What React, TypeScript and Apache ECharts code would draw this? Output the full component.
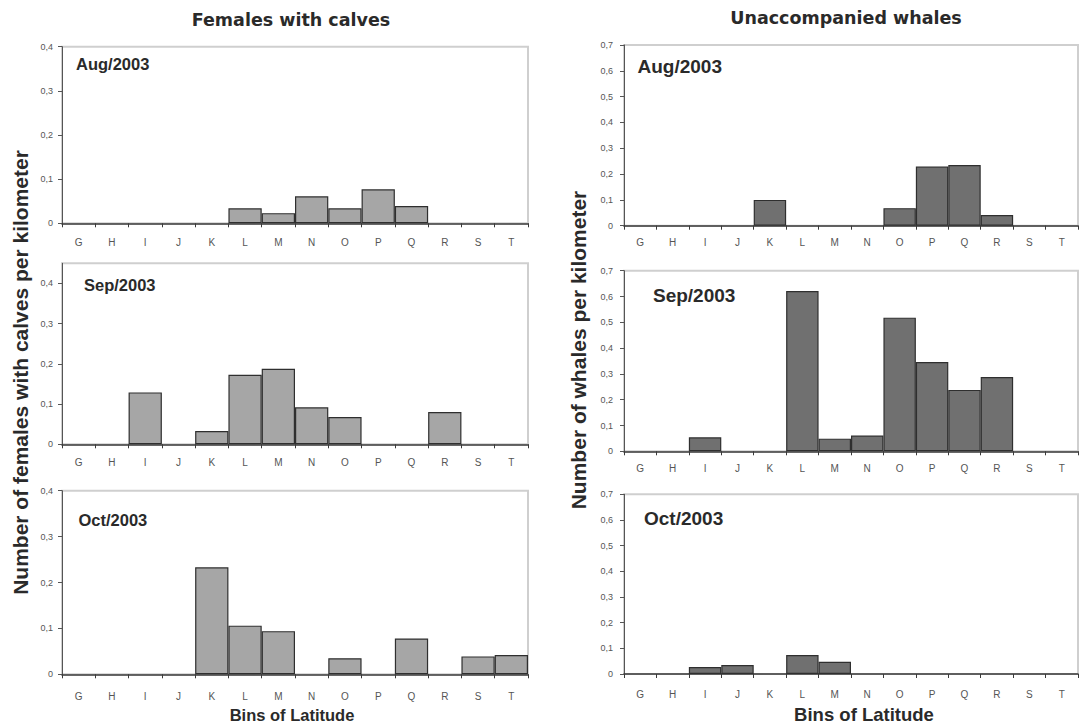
import React, { useEffect, useRef } from 'react';
import * as echarts from 'echarts';

// ---------- data ----------
const categories = ['G', 'H', 'I', 'J', 'K', 'L', 'M', 'N', 'O', 'P', 'Q', 'R', 'S', 'T'];
const monthLabels = ['Aug/2003', 'Sep/2003', 'Oct/2003'];
const columnTitles = ['Females with calves', 'Unaccompanied whales'];
const yTitles = ['Number of females with calves per kilometer', 'Number of whales per kilometer'];
const xTitle = 'Bins of Latitude';

// Females with calves (per km)            G     H     I      J     K      L      M      N      O      P      Q      R      S      T
const femalesAug = [null, null, null, null, null, 0.034, 0.023, 0.061, 0.034, 0.077, 0.039, null, null, null];
const femalesSep = [null, null, 0.129, null, 0.033, 0.173, 0.188, 0.092, 0.068, null, null, 0.080, null, null];
const femalesOct = [null, null, null, null, 0.233, 0.106, 0.094, null, 0.035, null, 0.078, null, 0.039, 0.042];

// Unaccompanied whales (per km)
const whalesAug = [null, null, null, null, 0.100, null, null, null, 0.068, 0.229, 0.235, 0.041, null, null];
const whalesSep = [null, null, 0.054, null, null, 0.621, 0.049, 0.061, 0.518, 0.346, 0.238, 0.288, null, null];
const whalesOct = [null, null, 0.027, 0.035, null, 0.074, 0.048, null, null, null, null, null, null, null];

const femalesMax = [0.4, 0.45, 0.4];
const whalesMax = [0.7, 0.7, 0.7];
const yInterval = 0.1;

export default function App() {
  const ref = useRef<HTMLDivElement>(null);

  useEffect(() => {
    if (!ref.current) return;
    const chart = echarts.init(ref.current, null, { renderer: 'svg' });

    const grids = [
      { left: 62, top: 46.7, width: 466, height: 176.6 },
      { left: 62, top: 263.3, width: 466, height: 181 },
      { left: 62, top: 490.7, width: 466, height: 183.6 },
      { left: 624, top: 45, width: 454, height: 180.7 },
      { left: 624, top: 270.7, width: 454, height: 180.6 },
      { left: 624, top: 494.3, width: 454, height: 179.7 },
    ];
    const labelMargins = [14, 13, 17, 11.5, 12.5, 15];
    const seriesData = [femalesAug, femalesSep, femalesOct, whalesAug, whalesSep, whalesOct];
    const maxes = [...femalesMax, ...whalesMax];

    const fmt = (v: number) => (v === 0 ? '0' : (Math.round(v * 10) / 10).toFixed(1).replace('.', ','));

    const txt = (x: number, y: number, text: string, font: string, align = 'center', extra: any = {}) => ({
      type: 'text',
      x,
      y,
      ...extra,
      style: { text, fill: '#2a2a2a', font, textAlign: align, textVerticalAlign: 'middle' },
    });

    const option: any = {
      animation: false,
      backgroundColor: '#ffffff',
      grid: grids.map((g) => ({
        ...g,
        show: true,
        backgroundColor: '#ffffff',
        borderColor: '#cfcfcf',
        borderWidth: 2,
      })),
      xAxis: grids.map((_, i) => ({
        type: 'category',
        gridIndex: i,
        data: categories,
        boundaryGap: true,
        axisLine: { show: true, lineStyle: { color: '#3a3a3a', width: 1.5 } },
        axisTick: { show: true, alignWithLabel: false, length: 4, lineStyle: { color: '#3a3a3a' } },
        axisLabel: {
          margin: labelMargins[i],
          color: '#555',
          fontFamily: 'Liberation Sans',
          fontSize: 10,
          interval: 0,
        },
        splitLine: { show: false },
      })),
      yAxis: grids.map((_, i) => ({
        type: 'value',
        gridIndex: i,
        min: 0,
        max: maxes[i],
        interval: yInterval,
        axisLine: { show: true, lineStyle: { color: '#555', width: 1 } },
        axisTick: { show: true, length: 4, lineStyle: { color: '#555' } },
        axisLabel: {
          margin: i < 3 ? 9 : 11,
          color: '#555',
          fontFamily: 'Liberation Sans',
          fontSize: 9,
          showMaxLabel: i === 1 ? false : true,
          formatter: fmt,
        },
        splitLine: { show: false },
      })),
      series: seriesData.map((d, i) => ({
        type: 'bar',
        xAxisIndex: i,
        yAxisIndex: i,
        data: d,
        barWidth: '100%',
        silent: true,
        itemStyle: {
          color: i < 3 ? '#a6a6a6' : '#707070',
          borderColor: '#2f2f2f',
          borderWidth: 1.2,
        },
      })),
      graphic: [
        // column titles
        txt(291, 20, columnTitles[0], 'bold 17.5px "DejaVu Sans"'),
        txt(846, 18, columnTitles[1], 'bold 17.5px "DejaVu Sans"'),
        // y titles
        txt(20, 372.5, yTitles[0], 'bold 21px "Liberation Sans"', 'center', { rotation: Math.PI / 2 }),
        txt(578, 350, yTitles[1], 'bold 21px "Liberation Sans"', 'center', { rotation: Math.PI / 2 }),
        // x titles
        txt(292, 715, xTitle, 'bold 16.5px "Liberation Sans"'),
        txt(864, 714, xTitle, 'bold 18.5px "Liberation Sans"'),
        // panel labels
        txt(76, 64.3, monthLabels[0], 'bold 16.5px "Liberation Sans"', 'left'),
        txt(84, 285, monthLabels[1], 'bold 16.5px "Liberation Sans"', 'left'),
        txt(78.5, 520, monthLabels[2], 'bold 16.5px "Liberation Sans"', 'left'),
        txt(637.5, 66, monthLabels[0], 'bold 19px "Liberation Sans"', 'left'),
        txt(653, 295.7, monthLabels[1], 'bold 19px "Liberation Sans"', 'left'),
        txt(644, 518.3, monthLabels[2], 'bold 19px "Liberation Sans"', 'left'),
      ],
    };

    chart.setOption(option);
    return () => chart.dispose();
  }, []);

  return (
    <div
      ref={ref}
      style={{ position: 'fixed', left: 0, top: 0, width: 1081, height: 728, background: '#ffffff' }}
    />
  );
}
